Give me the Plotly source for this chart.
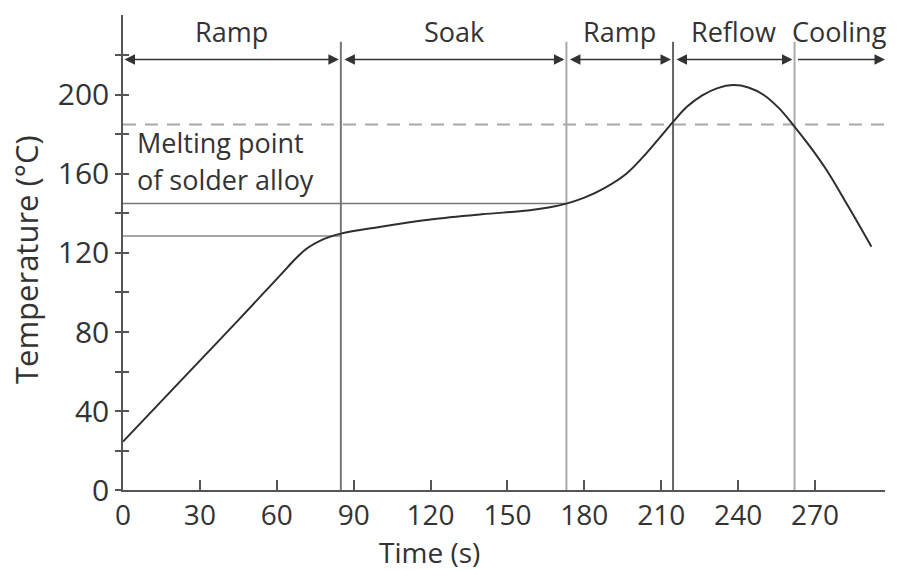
import plotly.graph_objects as go

# ---- data ----
time_s = [0, 15, 30, 45, 56, 64, 68, 72, 77, 85, 100, 120, 140, 158, 166, 173,
          180, 188, 196.5, 203, 209, 214.7, 220, 226, 232, 238, 244, 250, 256,
          261.5, 268, 274.5, 283, 292]
temp_c = [24.5, 45, 65.5, 86, 101.3, 112.5, 118, 122.5, 126.3, 129.8, 133.2, 137,
          139.6, 141.5, 143, 145, 148, 153, 160.3, 168.8, 177.8, 186.5, 194, 199.8,
          203.5, 205, 203.8, 200, 193.2, 184.8, 174, 162, 143.5, 123.2]

phase_names = ["Ramp", "Soak", "Ramp", "Reflow", "Cooling"]
phase_starts = [0, 85, 173, 214.6, 262]
phase_ends = [85, 173, 214.6, 262, 297.3]
boundaries = [85, 173, 214.6, 262]
boundary_top = 227

melting_point = 185
melt_label = ["Melting point", "of solder alloy"]
soak_start_temp = 128.6
soak_end_temp = 145

x_ticks = [0, 30, 60, 90, 120, 150, 180, 210, 240, 270]
y_ticks = [0, 20, 40, 60, 80, 100, 120, 140, 160, 180, 200, 220]
y_ticktext = ["0", "", "40", "", "80", "", "120", "", "160", "", "200", ""]

X_MAX = 297.3
Y_MAX = 240.5

FONT = "Open Sans"
TXT = "#333333"

fig = go.Figure()

# horizontal reference lines
fig.add_trace(go.Scatter(x=[0, X_MAX], y=[melting_point, melting_point], mode="lines",
                         line=dict(color="#a8a8a8", width=2, dash="13px,9px"),
                         hoverinfo="skip", showlegend=False))
fig.add_trace(go.Scatter(x=[0, boundaries[1]], y=[soak_end_temp, soak_end_temp], mode="lines",
                         line=dict(color="#777777", width=1.5), hoverinfo="skip", showlegend=False))
fig.add_trace(go.Scatter(x=[0, boundaries[0]], y=[soak_start_temp, soak_start_temp], mode="lines",
                         line=dict(color="#888888", width=1.5), hoverinfo="skip", showlegend=False))

# vertical phase boundaries
vcolors = ["#777777", "#aaaaaa", "#666666", "#aaaaaa"]
for b, c in zip(boundaries, vcolors):
    fig.add_trace(go.Scatter(x=[b, b], y=[0, boundary_top], mode="lines",
                             line=dict(color=c, width=2), hoverinfo="skip", showlegend=False))

# temperature profile
fig.add_trace(go.Scatter(x=time_s, y=temp_c, mode="lines",
                         line=dict(color="#2e2e2e", width=2, shape="spline", smoothing=1.0),
                         showlegend=False))

# dummy trace for overlaid axis (crossing ticks)
fig.add_trace(go.Scatter(x=[0], y=[0], yaxis="y2", mode="markers",
                         marker=dict(opacity=0), hoverinfo="skip", showlegend=False))

annotations = []
arrow_y = 218
label_y = 232
for i, (name, a, b) in enumerate(zip(phase_names, phase_starts, phase_ends)):
    last = i == len(phase_names) - 1
    annotations.append(dict(
        x=b, y=arrow_y, ax=a, ay=arrow_y, xref="x", yref="y", axref="x", ayref="y",
        text="", showarrow=True, arrowhead=2, startarrowhead=2,
        arrowside="end" if last else "end+start",
        arrowsize=1.4, startarrowsize=1.4, arrowwidth=1.5, arrowcolor="#333333",
        standoff=2 if not last else 0, startstandoff=0 if i == 0 else 2))
    annotations.append(dict(
        x=(a + b) / 2, y=label_y, xref="x", yref="y", text=name, showarrow=False,
        font=dict(family=FONT, size=27, color=TXT), yanchor="middle"))

annotations.append(dict(x=4.7, y=176, xref="x", yref="y", text=melt_label[0], showarrow=False,
                        xanchor="left", yanchor="middle", font=dict(family=FONT, size=27, color=TXT)))
annotations.append(dict(x=4.7, y=157, xref="x", yref="y", text=melt_label[1], showarrow=False,
                        xanchor="left", yanchor="middle", font=dict(family=FONT, size=27, color=TXT)))

# axis titles
annotations.append(dict(x=119.5, y=-0.1315, xref="x", yref="paper", text="Time (s)", showarrow=False,
                        xanchor="center", yanchor="middle", font=dict(family=FONT, size=28, color=TXT)))
annotations.append(dict(x=-0.128, y=0.485, xref="paper", yref="paper", text="Temperature (°C)",
                        showarrow=False, textangle=-90, xanchor="center", yanchor="middle",
                        font=dict(family=FONT, size=31, color=TXT)))

axis_common = dict(showgrid=False, zeroline=False, linecolor="#555555", linewidth=1.5,
                   tickcolor="#555555", tickwidth=1.5)

fig.update_layout(
    width=897, height=570, autosize=False,
    margin=dict(l=123, r=12, t=15, b=80, pad=0),
    plot_bgcolor="white", paper_bgcolor="white",
    font=dict(family=FONT, color=TXT),
    xaxis=dict(range=[0, X_MAX], showline=True, ticks="inside", ticklen=10,
               tickvals=x_ticks, tickfont=dict(size=28, color=TXT), ticklabelstandoff=0,
               **axis_common),
    yaxis=dict(range=[0, Y_MAX], showline=True, ticks="outside", ticklen=6,
               tickvals=y_ticks, ticktext=y_ticktext, tickfont=dict(size=30, color=TXT),
               ticklabelstandoff=0, **axis_common),
    yaxis2=dict(range=[0, Y_MAX], overlaying="y", anchor="x", side="left", showline=False,
                ticks="inside", ticklen=6, tickvals=y_ticks, showticklabels=False,
                **axis_common),
    annotations=annotations,
)

fig.write_html("out.html")
